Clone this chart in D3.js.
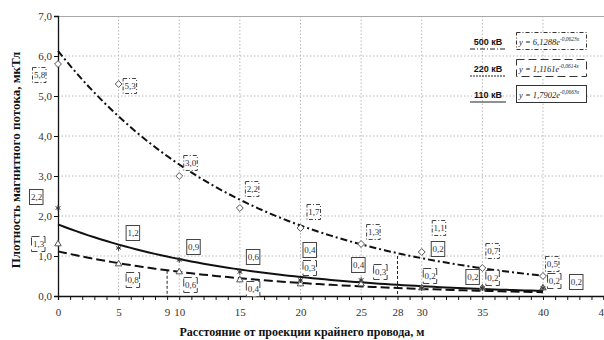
<!DOCTYPE html>
<html>
<head>
<meta charset="utf-8">
<script src="https://cdn.jsdelivr.net/npm/d3@7/dist/d3.min.js"></script>
<style>
  html, body { margin: 0; padding: 0; background: #fff; }
  svg { display: block; }
</style>
</head>
<body>
<svg id="chart" width="604" height="340"></svg>
<script>
// Distance from the outer conductor projection, m
const distances = [0, 5, 10, 15, 20, 25, 30, 35, 40];

// Measured magnetic flux density, µT
const b500 = [5.8, 5.3, 3.0, 2.2, 1.7, 1.3, 1.1, 0.7, 0.5];
const b220 = [1.3, 0.8, 0.6, 0.4, 0.3, 0.3, 0.2, 0.2, 0.2];
const b110 = [2.2, 1.2, 0.9, 0.6, 0.4, 0.4, 0.2, 0.2, 0.2];

// Exponential trend coefficients: y = a * e^(k x)
const trend500 = { a: 6.1288, k: -0.0623 };
const trend220 = { a: 1.1161, k: -0.0614 };
const trend110 = { a: 1.7902, k: -0.0663 };

const seriesNames = ["500 кВ", "220 кВ", "110 кВ"];
const equationText = [
  ["y = 6,1288e", "-0,0623x"],
  ["y = 1,1161e", "-0,0614x"],
  ["y = 1,7902e", "-0,0663x"]
];

const xTickLabels = [0, 5, 9, 10, 15, 20, 25, 28, 30, 35, 40, 45];
const yTicks = [0, 1, 2, 3, 4, 5, 6, 7];

// Reference distances marked with vertical dashed lines and their heights
const markerX = [9, 28];
const markerTop = [0.63, 1.0];

// ---- layout ----
const svg = d3.select("#chart");
const x = d3.scaleLinear().domain([0, 45]).range([58, 603.6]);
const y = d3.scaleLinear().domain([0, 7]).range([296, 16]);

// data-label offsets from each point, px
const off500 = [[-19, 11], [11, 2], [11, -13], [12, -19], [13, -16], [12, -12], [17, -24], [10, -17], [9, -12]];
const off220 = [[-20, 0], [14, 16], [11, 13], [13, 9], [9, -16], [19, -12], [8, -12], [10, -10], [11, -7]];
const off110 = [[-22, -11], [14, -15], [14, -13], [13, -15], [9, -30], [-3, -15], [16, -39], [-10, -11], [33, -6]];

const serif = "'Liberation Serif', 'Times New Roman', serif";
const sans = "'Liberation Sans', Arial, sans-serif";
const fmt = v => v.toFixed(1).replace(".", ",");

// grid
const grid = svg.append("g");
grid.selectAll("line.h").data(yTicks.filter(v => v > 0 && v < 7)).join("line")
  .attr("x1", x(0)).attr("x2", 604).attr("y1", d => y(d)).attr("y2", d => y(d))
  .attr("stroke", "#b8b8b8").attr("stroke-width", 1).attr("stroke-dasharray", "1.5,2");
grid.selectAll("line.v").data([5, 10, 15, 20, 25, 30, 35, 40]).join("line")
  .attr("x1", d => x(d)).attr("x2", d => x(d)).attr("y1", y(7)).attr("y2", y(0))
  .attr("stroke", "#b8b8b8").attr("stroke-width", 1).attr("stroke-dasharray", "1.5,2");
grid.append("line").attr("x1", x(0)).attr("x2", 604).attr("y1", y(7) + 0.5).attr("y2", y(7) + 0.5)
  .attr("stroke", "#a8a8a8").attr("stroke-width", 1);

// reference verticals
svg.append("g").selectAll("line").data(markerX).join("line")
  .attr("x1", d => x(d)).attr("x2", d => x(d))
  .attr("y1", (d, i) => y(markerTop[i])).attr("y2", y(0))
  .attr("stroke", "#222").attr("stroke-width", 1).attr("stroke-dasharray", "3,2");

// axes
const xMinor = d3.axisBottom(x).tickValues(d3.range(0, 46, 1)).tickSize(4).tickFormat("");
const gxm = svg.append("g").attr("transform", `translate(0,${y(0)})`).call(xMinor);
gxm.select(".domain").attr("stroke", "#111").attr("stroke-width", 1.3);
gxm.selectAll(".tick line").attr("stroke", "#111");

const xLab = d3.axisBottom(x).tickValues(xTickLabels).tickSize(0).tickPadding(12).tickFormat(d => d);
const gxl = svg.append("g").attr("transform", `translate(0,${y(0)})`).call(xLab);
gxl.select(".domain").remove();
gxl.selectAll("text").attr("font-family", serif).attr("font-size", 11).attr("fill", "#333");

const yAx = d3.axisLeft(y).tickValues(yTicks).tickSize(4).tickPadding(2).tickFormat(fmt);
const gy = svg.append("g").attr("transform", `translate(${x(0)},0)`).call(yAx);
gy.select(".domain").attr("stroke", "#111").attr("stroke-width", 1.3);
gy.selectAll(".tick line").attr("stroke", "#111");
gy.selectAll("text").attr("font-family", serif).attr("font-size", 11).attr("fill", "#333");

// axis titles
svg.append("text").attr("x", 302).attr("y", 336).attr("text-anchor", "middle")
  .attr("font-family", serif).attr("font-size", 12).attr("font-weight", "bold").attr("fill", "#111")
  .text("Расстояние от проекции крайнего провода, м");
svg.append("text").attr("transform", "translate(20,160) rotate(-90)").attr("text-anchor", "middle")
  .attr("font-family", serif).attr("font-size", 13).attr("font-weight", "bold").attr("fill", "#111")
  .text("Плотность магнитного потока, мкТл");

// trend curves
const styles = [
  { dash: "7,3,2,3", box: "4,2,1,2", legendDash: "5,2,1,2" },
  { dash: "9,4", box: "8,4", legendDash: "2,1" },
  { dash: null, box: null, legendDash: null }
];
const trends = [trend500, trend220, trend110];
const xs = d3.range(0, 40.01, 0.5);
const line = d3.line().x(d => x(d[0])).y(d => y(d[1])).curve(d3.curveLinear);
trends.forEach((t, i) => {
  svg.append("path")
    .datum(xs.map(v => [v, t.a * Math.exp(t.k * v)]))
    .attr("d", line).attr("fill", "none").attr("stroke", "#111").attr("stroke-width", 2)
    .attr("stroke-dasharray", styles[i].dash);
});

// markers
const pts = (vals) => distances.map((d, i) => [d, vals[i]]);
svg.append("g").selectAll("path").data(pts(b500)).join("path")
  .attr("d", d3.symbol(d3.symbolDiamond2, 30))
  .attr("transform", d => `translate(${x(d[0])},${y(d[1])})`)
  .attr("fill", "#fff").attr("stroke", "#555").attr("stroke-width", 1);
svg.append("g").selectAll("path").data(pts(b220)).join("path")
  .attr("d", d3.symbol(d3.symbolTriangle2, 30))
  .attr("transform", d => `translate(${x(d[0])},${y(d[1])})`)
  .attr("fill", "#fff").attr("stroke", "#555").attr("stroke-width", 1);
svg.append("g").selectAll("path").data(pts(b110)).join("path")
  .attr("d", d3.symbol(d3.symbolAsterisk, 22))
  .attr("transform", d => `translate(${x(d[0])},${y(d[1])})`)
  .attr("fill", "none").attr("stroke", "#333").attr("stroke-width", 1);

// value labels
function labels(vals, offs, boxDash) {
  const g = svg.append("g").selectAll("g").data(pts(vals)).join("g")
    .attr("transform", (d, i) => `translate(${x(d[0]) + offs[i][0]},${y(d[1]) + offs[i][1]})`);
  g.append("rect").attr("x", -6.5).attr("y", -7.5).attr("width", 13.5).attr("height", 15)
    .attr("fill", "#fff").attr("stroke", "#444").attr("stroke-width", 1)
    .attr("stroke-dasharray", boxDash);
  g.append("text").attr("x", 0.5).attr("y", 3).attr("text-anchor", "middle")
    .attr("font-family", serif).attr("font-size", 9).attr("fill", "#333")
    .text(d => fmt(d[1]));
}
labels(b500, off500, styles[0].box);
labels(b220, off220, styles[1].box);
labels(b110, off110, styles[2].box);

// legend
const legendY = [42, 69, 95];
seriesNames.forEach((name, i) => {
  const ly = legendY[i];
  svg.append("text").attr("x", 488).attr("y", ly + 3).attr("text-anchor", "middle")
    .attr("font-family", sans).attr("font-size", 9).attr("font-weight", "bold").attr("fill", "#111")
    .text(name);
  svg.append("line").attr("x1", 470).attr("x2", 506).attr("y1", ly + 7).attr("y2", ly + 7)
    .attr("stroke", "#222").attr("stroke-width", 1.2).attr("stroke-dasharray", styles[i].legendDash);
  svg.append("rect").attr("x", 516.5).attr("y", ly - 9.5).attr("width", 70).attr("height", 17)
    .attr("fill", "#fff").attr("stroke", "#333").attr("stroke-width", 1)
    .attr("stroke-dasharray", styles[i].box);
  const t = svg.append("text").attr("x", 519).attr("y", ly + 3)
    .attr("font-family", serif).attr("font-size", 8.5).attr("font-style", "italic").attr("fill", "#222");
  t.append("tspan").text(equationText[i][0]);
  t.append("tspan").attr("dy", -4).attr("font-size", 5.5).text(equationText[i][1]);
});
</script>
</body>
</html>
